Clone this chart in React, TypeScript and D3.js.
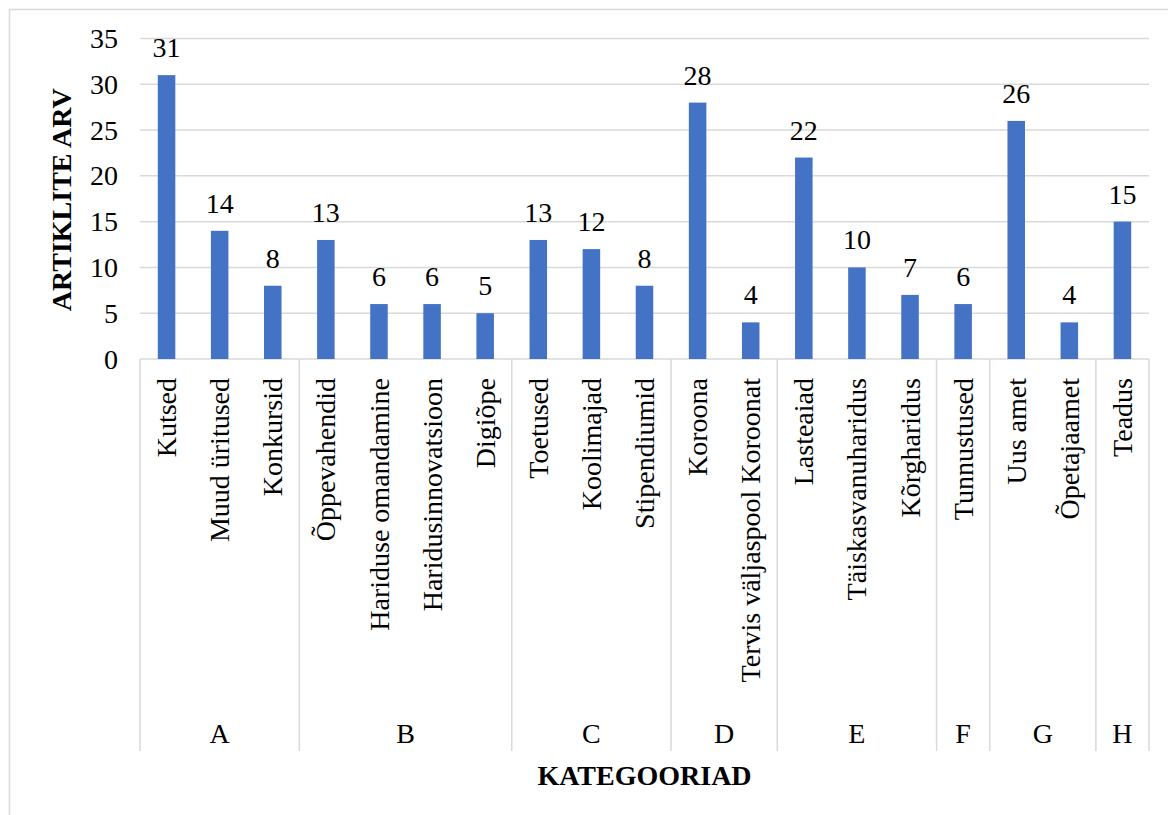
import React from "react";
import * as d3 from "d3";

const categories = [
  "Kutsed", "Muud üritused", "Konkursid",
  "Õppevahendid", "Hariduse omandamine", "Haridusinnovatsioon", "Digiõpe",
  "Toetused", "Koolimajad", "Stipendiumid",
  "Koroona", "Tervis väljaspool Koroonat",
  "Lasteaiad", "Täiskasvanuharidus", "Kõrgharidus",
  "Tunnustused",
  "Uus amet", "Õpetajaamet",
  "Teadus",
];
const values = [31, 14, 8, 13, 6, 6, 5, 13, 12, 8, 28, 4, 22, 10, 7, 6, 26, 4, 15];
const groupNames = ["A", "B", "C", "D", "E", "F", "G", "H"];
const groupSizes = [3, 4, 3, 2, 3, 1, 2, 1];
const yTicks = [0, 5, 10, 15, 20, 25, 30, 35];

const W = 1168, H = 815;
const left = 140, right = 1149, top = 38.5, bottom = 359;
const FONT = '"Liberation Serif", "Times New Roman", Tinos, "DejaVu Serif", serif';
const ts: React.CSSProperties = { fontFamily: FONT };

export default function App() {
  const x = d3.scaleBand<string>().domain(categories).range([left, right]).padding(0);
  const y = d3.scaleLinear().domain([0, 35]).range([bottom, top]);
  const bw = x.bandwidth() * 0.33;

  const bounds: number[] = [0];
  groupSizes.forEach((s, i) => bounds.push(bounds[i] + s));
  const bx = (i: number) => left + i * x.step();

  return (
    <svg width={W} height={H} style={{ position: "absolute", left: 0, top: 0, display: "block", background: "#fff", fontFamily: FONT }}>
      <rect x={9.5} y={9.5} width={1300} height={1000} fill="#fff" stroke="#d9d9d9" strokeWidth={1.5} />
      {yTicks.map((t) => (
        <g key={t}>
          <line x1={left} x2={right} y1={y(t)} y2={y(t)} stroke="#d9d9d9" strokeWidth={1.5} />
          <text x={118} y={y(t)} dy="0.34em" textAnchor="end" fontSize={28} fill="#000" style={ts}>{t}</text>
        </g>
      ))}
      {categories.map((c, i) => (
        <g key={c}>
          <rect x={x(c)! + x.bandwidth() / 2 - bw / 2} y={y(values[i])} width={bw} height={y(0) - y(values[i])} fill="#4472c4" />
          <text x={x(c)! + x.bandwidth() / 2} y={y(values[i]) - 18} textAnchor="middle" fontSize={28} fill="#000" style={ts}>{values[i]}</text>
          <text transform={`translate(${x(c)! + x.bandwidth() / 2},378) rotate(-90)`} textAnchor="end" dy="0.34em"
            fontSize={28} fill="#000" style={ts}>{c}</text>
        </g>
      ))}
      {bounds.map((b, i) => (
        <line key={i} x1={bx(b)} x2={bx(b)} y1={bottom} y2={751} stroke="#d9d9d9" strokeWidth={1.5} />
      ))}
      {groupNames.map((g, i) => (
        <text key={g} x={(bx(bounds[i]) + bx(bounds[i + 1])) / 2} y={743} textAnchor="middle" fontSize={28} fill="#000" style={ts}>{g}</text>
      ))}
      <text x={(left + right) / 2} y={785} textAnchor="middle" fontSize={28} fontWeight="bold" fill="#000" style={ts}>KATEGOORIAD</text>
      <text transform={`translate(61,${(top + bottom) / 2 + 1}) rotate(-90)`} textAnchor="middle" dy="0.34em"
        fontSize={28} fontWeight="bold" fill="#000" style={ts}>ARTIKLITE ARV</text>
    </svg>
  );
}
